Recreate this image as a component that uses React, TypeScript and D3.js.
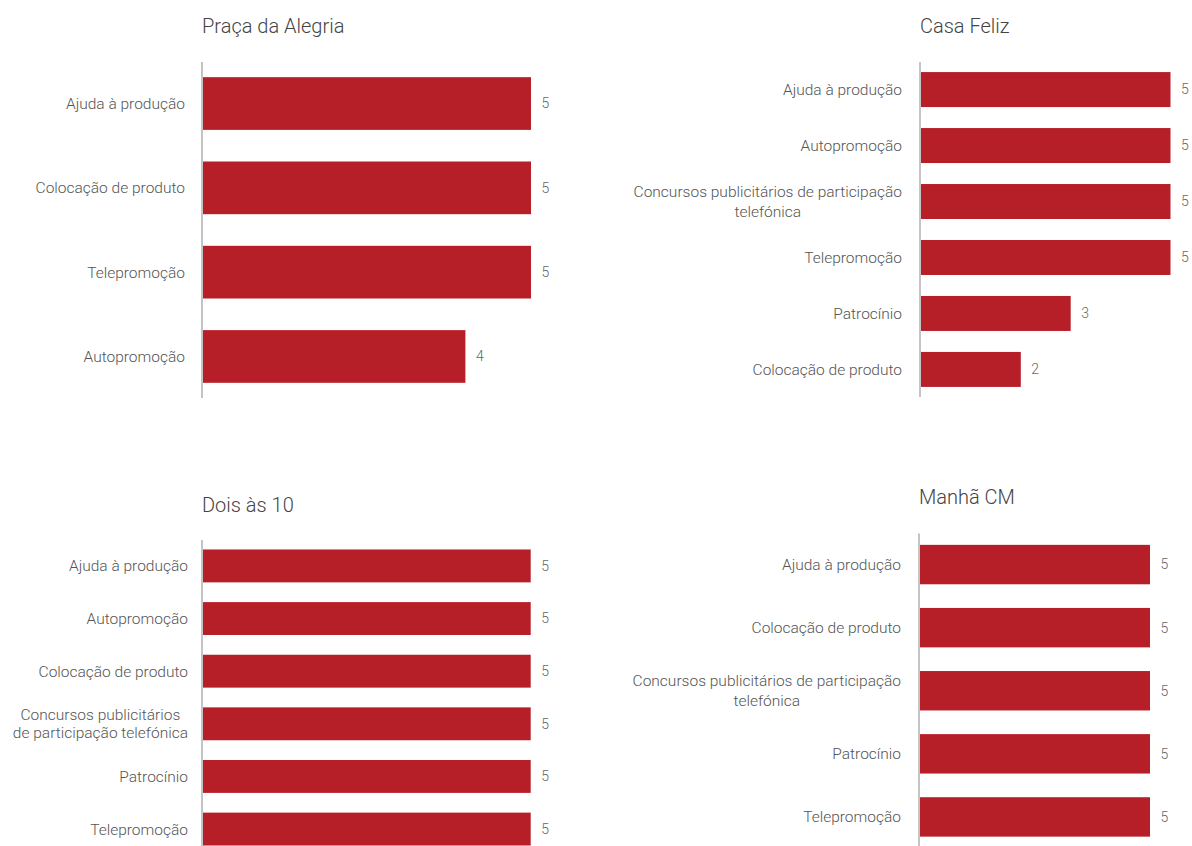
import React, { useEffect, useRef } from "react";
import * as d3 from "d3";

// ---------- Data ----------
const pracaCategories = ["Ajuda à produção", "Colocação de produto", "Telepromoção", "Autopromoção"];
const pracaValues = [5, 5, 5, 4];

const casaCategories = [
  "Ajuda à produção",
  "Autopromoção",
  "Concursos publicitários de participação telefónica",
  "Telepromoção",
  "Patrocínio",
  "Colocação de produto",
];
const casaValues = [5, 5, 5, 5, 3, 2];

const doisCategories = [
  "Ajuda à produção",
  "Autopromoção",
  "Colocação de produto",
  "Concursos publicitários de participação telefónica",
  "Patrocínio",
  "Telepromoção",
];
const doisValues = [5, 5, 5, 5, 5, 5];

const manhaCategories = [
  "Ajuda à produção",
  "Colocação de produto",
  "Concursos publicitários de participação telefónica",
  "Patrocínio",
  "Telepromoção",
];
const manhaValues = [5, 5, 5, 5, 5];

const titles = ["Praça da Alegria", "Casa Feliz", "Dois às 10", "Manhã CM"];
const valueMax = 5;

// ---------- Layout / style ----------
const W = 1192;
const H = 846;
const FONT = "Roboto, 'Open Sans', sans-serif";
const BAR_COLOR = "#b71f28";
const AXIS_COLOR = "#c4c4c4";
const LABEL_COLOR = "#555555";
const VALUE_COLOR = "#666666";
const TITLE_COLOR = "#444444";
const LABEL_SIZE = 15.5;
const VALUE_SIZE = 14;
const TITLE_SIZE = 20;
const LINE_H = 20;

type Panel = {
  title: string;
  cats: string[];
  vals: number[];
  axisX: number;
  xMax: number;
  yTop: number;
  yBottom: number;
  titleY: number;
  labelGap: number;
  wrap: number;
  balanced: boolean;
};

const panels: Panel[] = [
  { title: titles[0], cats: pracaCategories, vals: pracaValues, axisX: 202, xMax: 531, yTop: 62, yBottom: 398, titleY: 33, labelGap: 17, wrap: 300, balanced: false },
  { title: titles[1], cats: casaCategories, vals: casaValues, axisX: 920, xMax: 1170.5, yTop: 62, yBottom: 397, titleY: 33, labelGap: 18, wrap: 300, balanced: false },
  { title: titles[2], cats: doisCategories, vals: doisValues, axisX: 202, xMax: 530.7, yTop: 540, yBottom: 855, titleY: 512, labelGap: 14, wrap: 200, balanced: true },
  { title: titles[3], cats: manhaCategories, vals: manhaValues, axisX: 919, xMax: 1150, yTop: 533.5, yBottom: 848, titleY: 504, labelGap: 18, wrap: 300, balanced: false },
];

let measureCtx: CanvasRenderingContext2D | null = null;
function textWidth(s: string): number {
  if (!measureCtx) {
    const c = document.createElement("canvas");
    measureCtx = c.getContext("2d");
  }
  if (!measureCtx) return s.length * 7.5;
  measureCtx.font = `300 ${LABEL_SIZE}px ${FONT}`;
  return measureCtx.measureText(s).width;
}

function greedy(s: string, maxW: number): string[] {
  const words = s.split(" ");
  const lines: string[] = [];
  let cur = "";
  for (const w of words) {
    const t = cur ? cur + " " + w : w;
    if (cur && textWidth(t) > maxW) {
      lines.push(cur);
      cur = w;
    } else cur = t;
  }
  if (cur) lines.push(cur);
  return lines;
}

function wrapText(s: string, maxW: number, balanced: boolean): string[] {
  const base = greedy(s, maxW);
  if (!balanced || base.length < 2) return base;
  let lo = 0;
  let hi = maxW;
  for (let k = 0; k < 30; k++) {
    const mid = (lo + hi) / 2;
    if (greedy(s, mid).length <= base.length) hi = mid;
    else lo = mid;
  }
  return greedy(s, hi);
}

export default function App() {
  const ref = useRef<SVGSVGElement | null>(null);

  useEffect(() => {
    const svg = d3.select(ref.current);
    svg.selectAll("*").remove();

    panels.forEach((p) => {
      const g = svg.append("g");
      const y = d3
        .scaleBand<string>()
        .domain(p.cats)
        .range([p.yTop, p.yBottom])
        .paddingInner(0.375)
        .paddingOuter(0.18);
      const x = d3.scaleLinear().domain([0, valueMax]).range([p.axisX + 1, p.xMax]);

      g.append("text")
        .attr("x", p.axisX)
        .attr("y", p.titleY)
        .attr("font-family", FONT)
        .attr("font-weight", 300)
        .attr("font-size", TITLE_SIZE)
        .attr("fill", TITLE_COLOR)
        .text(p.title);

      g.selectAll("rect.bar")
        .data(p.cats)
        .join("rect")
        .attr("class", "bar")
        .attr("x", x(0))
        .attr("y", (c) => y(c) as number)
        .attr("width", (_c, i) => x(p.vals[i]) - x(0))
        .attr("height", y.bandwidth())
        .attr("fill", BAR_COLOR);

      g.append("line")
        .attr("x1", p.axisX)
        .attr("x2", p.axisX)
        .attr("y1", p.yTop)
        .attr("y2", p.yBottom)
        .attr("stroke", AXIS_COLOR)
        .attr("stroke-width", 2);

      // category labels
      p.cats.forEach((c) => {
        const lines = wrapText(c, p.wrap, p.balanced);
        const widths = lines.map(textWidth);
        const maxW = Math.max(...widths);
        const right = p.axisX - p.labelGap;
        const cx = right - maxW / 2;
        const cy = (y(c) as number) + y.bandwidth() / 2;
        const t = g
          .append("text")
          .attr("font-family", FONT)
          .attr("font-weight", 300)
          .attr("font-size", LABEL_SIZE)
          .attr("fill", LABEL_COLOR)
          .attr("text-anchor", lines.length > 1 ? "middle" : "end");
        lines.forEach((ln, i) => {
          t.append("tspan")
            .attr("x", lines.length > 1 ? cx : right)
            .attr("y", cy + (i - (lines.length - 1) / 2) * (p.balanced ? 18 : LINE_H))
            .attr("dy", "0.35em")
            .text(ln);
        });
      });

      // value labels
      g.selectAll("text.val")
        .data(p.cats)
        .join("text")
        .attr("class", "val")
        .attr("x", (_c, i) => x(p.vals[i]) + 10.5)
        .attr("y", (c) => (y(c) as number) + y.bandwidth() / 2)
        .attr("dy", "0.35em")
        .attr("font-family", FONT)
        .attr("font-weight", 300)
        .attr("font-size", VALUE_SIZE)
        .attr("fill", VALUE_COLOR)
        .text((_c, i) => d3.format("d")(p.vals[i]));
    });
  }, []);

  return (
    <svg
      ref={ref}
      width={W}
      height={H}
      style={{ position: "absolute", left: 0, top: 0, overflow: "hidden", background: "#fff" }}
    />
  );
}
